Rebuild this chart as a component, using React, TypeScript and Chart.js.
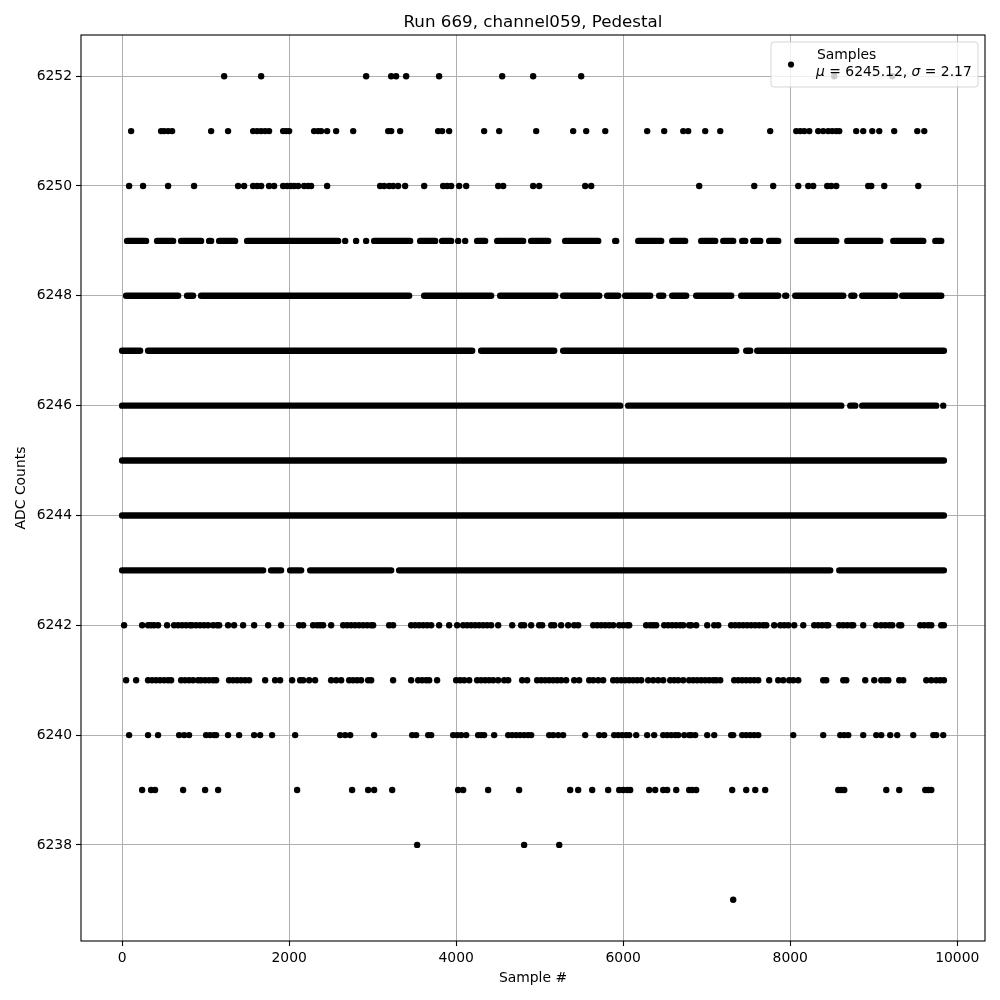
import React, { useEffect, useRef } from "react";
import { Chart, registerables } from "chart.js";

Chart.register(...registerables);

const TITLE = "Run 669, channel059, Pedestal";
const X_LABEL = "Sample #";
const Y_LABEL = "ADC Counts";
const LEGEND_NAME = "Samples";
const MEAN_TEXT = "6245.12";
const SIGMA_TEXT = "2.17";

const xTicks = [0, 2000, 4000, 6000, 8000, 10000];
const yTicks = [6238, 6240, 6242, 6244, 6246, 6248, 6250, 6252];
const X_MIN = -492;
const X_MAX = 10332;
const Y_MIN = 6236.25;
const Y_MAX = 6252.75;

// Runs of consecutive samples (start, end sample index) on the densely populated levels
const runs6249 = [
  [60, 287], [419, 611], [707, 946], [1042, 1066], [1162, 1353], [1497, 2587],
  [3018, 3449], [3569, 3749], [3832, 3940], [4251, 4347], [4491, 4802], [4898, 5102],
  [5305, 5701], [5904, 5916], [6180, 6455], [6587, 6742], [6934, 7102], [7198, 7317],
  [7425, 7461], [7557, 7641], [7748, 7856], [8084, 8551], [8683, 9078], [9234, 9593],
  [9737, 9808],
];
const runs6248 = [
  [48, 671], [778, 850], [946, 3437], [3617, 4419], [4527, 5186], [5281, 5713],
  [5808, 5940], [6024, 6323], [6431, 6479], [6587, 6754], [6874, 7293], [7413, 7856],
  [7940, 7952], [8060, 8635], [8731, 8767], [8862, 9257], [9341, 9808],
];
const runs6247 = [
  [0, 216], [311, 4192], [4299, 5174], [5281, 7353], [7473, 7521], [7605, 9840],
];
const runs6246 = [
  [0, 5964], [6060, 8611], [8719, 8779], [8862, 9748],
];
const runs6245 = [[0, 9840]];
const runs6244 = [[0, 9840]];
const runs6243 = [
  [0, 1689], [1784, 1904], [2012, 2144], [2252, 3222], [3317, 8479], [8587, 9840],
];

// Isolated samples (sample index) per level
const dots6252 = [1222, 1665, 2922, 3222, 3281, 3401, 3796, 4551, 4922, 5497, 8527, 9221];
const dots6251 = [
  108, 467, 503, 551, 599, 1066, 1269, 1569, 1617, 1665, 1713, 1760, 1928, 1964, 2000,
  2299, 2347, 2383, 2455, 2563, 2767, 3186, 3222, 3329, 3784, 3832, 3916, 4335, 4515,
  4958, 5401, 5557, 5785, 6287, 6491, 6719, 6778, 6982, 7162, 7760, 8072, 8120, 8168,
  8228, 8335, 8395, 8455, 8503, 8551, 8587, 8790, 8874, 8982, 9066, 9245, 9521, 9605,
];
const dots6250 = [
  84, 251, 551, 862, 1389, 1461, 1569, 1617, 1665, 1760, 1820, 1928, 1976, 2024, 2060,
  2108, 2180, 2227, 2263, 2455, 3090, 3138, 3198, 3245, 3305, 3389, 3617, 3844, 3892,
  3940, 4036, 4120, 4503, 4563, 4922, 4994, 5545, 5617, 6910, 7569, 7796, 8096, 8216,
  8275, 8443, 8491, 8551, 8934, 8970, 9126, 9533,
];
const dots6249 = [2671, 2802, 2922, 4024, 4108];
const dots6246 = [9832];
const dots6242 = [
  24, 240, 311, 347, 383, 431, 539, 623, 671, 719, 766, 814, 838, 886, 934, 982, 1030,
  1090, 1138, 1162, 1269, 1341, 1449, 1581, 1749, 1904, 2120, 2168, 2287, 2335, 2371,
  2407, 2503, 2647, 2695, 2742, 2790, 2838, 2886, 2934, 2982, 3006, 3198, 3245, 3461,
  3509, 3557, 3605, 3653, 3701, 3796, 3916, 4012, 4084, 4132, 4180, 4228, 4275, 4323,
  4371, 4419, 4503, 4671, 4778, 4814, 4898, 4994, 5030, 5138, 5174, 5257, 5341, 5413,
  5461, 5641, 5689, 5737, 5784, 5832, 5880, 5952, 6000, 6048, 6072, 6275, 6323, 6359,
  6395, 6491, 6539, 6587, 6635, 6683, 6719, 6790, 6814, 6874, 7006, 7090, 7138, 7293,
  7341, 7389, 7437, 7485, 7533, 7581, 7629, 7677, 7713, 7808, 7880, 7928, 7976, 8048,
  8156, 8287, 8335, 8383, 8431, 8455, 8587, 8635, 8683, 8731, 8754, 8874, 9030, 9090,
  9138, 9186, 9222, 9305, 9329, 9557, 9605, 9653, 9689, 9808, 9840,
];
const dots6241 = [
  48, 168, 311, 359, 407, 455, 503, 551, 587, 707, 754, 802, 850, 910, 946, 994, 1042,
  1090, 1126, 1281, 1329, 1377, 1425, 1473, 1521, 1713, 1832, 1892, 2036, 2132, 2168,
  2240, 2311, 2503, 2563, 2623, 2719, 2766, 2814, 2862, 2946, 2982, 3245, 3461, 3545,
  3593, 3641, 3677, 3772, 4000, 4048, 4096, 4156, 4251, 4299, 4347, 4395, 4443, 4503,
  4575, 4623, 4790, 4850, 4970, 5018, 5066, 5114, 5162, 5210, 5257, 5317, 5413, 5473,
  5593, 5641, 5701, 5760, 5880, 5928, 5976, 6024, 6072, 6120, 6168, 6216, 6299, 6359,
  6419, 6479, 6563, 6611, 6659, 6719, 6790, 6838, 6886, 6934, 6982, 7030, 7078, 7114,
  7162, 7329, 7377, 7425, 7473, 7521, 7569, 7617, 7748, 7856, 7916, 7988, 8036, 8096,
  8395, 8431, 8635, 8671, 8898, 9006, 9090, 9138, 9174, 9305, 9353, 9629, 9689, 9748,
  9796, 9840,
];
const dots6240 = [
  84, 311, 431, 683, 743, 802, 1006, 1054, 1102, 1126, 1269, 1401, 1581, 1653, 1796,
  2072, 2611, 2671, 2731, 3018, 3473, 3521, 3665, 3701, 3964, 4012, 4060, 4120, 4263,
  4299, 4335, 4455, 4623, 4671, 4719, 4766, 4814, 4862, 4898, 5114, 5162, 5222, 5281,
  5545, 5713, 5772, 5892, 5940, 5988, 6036, 6072, 6156, 6287, 6371, 6479, 6527, 6575,
  6623, 6659, 6731, 6790, 6814, 6862, 7006, 7090, 7293, 7317, 7425, 7473, 7521, 7569,
  7617, 8036, 8395, 8599, 8647, 8695, 8874, 9030, 9090, 9197, 9281, 9473, 9713, 9748,
  9832,
];
const dots6239 = [
  240, 347, 395, 731, 994, 1150, 2096, 2754, 2946, 3018, 3234, 4024, 4084, 4383, 4754,
  5365, 5461, 5629, 5820, 5952, 6000, 6048, 6084, 6311, 6383, 6479, 6527, 6635, 6790,
  6826, 6874, 7305, 7473, 7581, 7700, 8575, 8611, 8647, 9150, 9305, 9617, 9653, 9689,
];
const dots6238 = [3533, 4814, 5234];
const dots6237 = [7317];

const runLevels = [6249, 6248, 6247, 6246, 6245, 6244, 6243];
const runSets = [runs6249, runs6248, runs6247, runs6246, runs6245, runs6244, runs6243];
const dotLevels = [6252, 6251, 6250, 6249, 6246, 6242, 6241, 6240, 6239, 6238, 6237];
const dotSets = [
  dots6252, dots6251, dots6250, dots6249, dots6246, dots6242, dots6241, dots6240,
  dots6239, dots6238, dots6237,
];

const FONT = "'DejaVu Sans', 'Liberation Sans', sans-serif";

function buildRunData() {
  const out: any[] = [];
  runLevels.forEach((lvl, i) => {
    runSets[i].forEach(([a, b]) => {
      out.push({ x: a, y: lvl }, { x: b, y: lvl }, { x: b, y: null });
    });
  });
  return out;
}

function buildDotData() {
  const out: any[] = [];
  dotLevels.forEach((lvl, i) => {
    dotSets[i].forEach((s) => out.push({ x: s, y: lvl }));
  });
  return out;
}

const decorPlugin = {
  id: "decor",
  afterDraw(chart: any) {
    const ctx = chart.ctx as CanvasRenderingContext2D;
    const a = chart.chartArea;
    ctx.save();
    // frame
    ctx.strokeStyle = "#000";
    ctx.lineWidth = 1.1;
    ctx.strokeRect(a.left, a.top, a.right - a.left, a.bottom - a.top);

    // title
    ctx.fillStyle = "#000";
    ctx.font = `16.7px ${FONT}`;
    ctx.textAlign = "center";
    ctx.textBaseline = "alphabetic";
    ctx.fillText(TITLE, (a.left + a.right) / 2, 27);

    // axis labels
    ctx.font = `13.9px ${FONT}`;
    ctx.fillText(X_LABEL, (a.left + a.right) / 2, 982);
    ctx.save();
    ctx.translate(25, (a.top + a.bottom) / 2);
    ctx.rotate(-Math.PI / 2);
    ctx.fillText(Y_LABEL, 0, 0);
    ctx.restore();

    // legend
    const lx = 771, ly = 42, lw = 207, lh = 45, r = 3;
    ctx.beginPath();
    ctx.moveTo(lx + r, ly);
    ctx.lineTo(lx + lw - r, ly);
    ctx.quadraticCurveTo(lx + lw, ly, lx + lw, ly + r);
    ctx.lineTo(lx + lw, ly + lh - r);
    ctx.quadraticCurveTo(lx + lw, ly + lh, lx + lw - r, ly + lh);
    ctx.lineTo(lx + r, ly + lh);
    ctx.quadraticCurveTo(lx, ly + lh, lx, ly + lh - r);
    ctx.lineTo(lx, ly + r);
    ctx.quadraticCurveTo(lx, ly, lx + r, ly);
    ctx.closePath();
    ctx.fillStyle = "rgba(255,255,255,0.8)";
    ctx.fill();
    ctx.strokeStyle = "rgba(204,204,204,0.8)";
    ctx.lineWidth = 1;
    ctx.stroke();

    ctx.fillStyle = "#000";
    ctx.beginPath();
    ctx.arc(791, 64.5, 3.1, 0, Math.PI * 2);
    ctx.fill();

    ctx.textAlign = "left";
    ctx.font = `13.9px ${FONT}`;
    ctx.fillText(LEGEND_NAME, 817, 59);
    let x = 816;
    const parts: [string, boolean][] = [
      ["\u03bc", true],
      [" = " + MEAN_TEXT + ", ", false],
      ["\u03c3", true],
      [" = " + SIGMA_TEXT, false],
    ];
    parts.forEach(([t, it]) => {
      ctx.font = `${it ? "italic " : ""}13.9px ${FONT}`;
      ctx.fillText(t, x, 76);
      x += ctx.measureText(t).width;
    });
    ctx.restore();
  },
};

export default function App() {
  const ref = useRef<HTMLCanvasElement | null>(null);
  useEffect(() => {
    if (!ref.current) return;
    const chart = new Chart(ref.current, {
      type: "scatter",
      data: {
        datasets: [
          {
            data: buildRunData(),
            showLine: true,
            spanGaps: false,
            borderColor: "#000",
            borderWidth: 6.4,
            borderCapStyle: "round",
            pointRadius: 0,
            pointHoverRadius: 0,
          } as any,
          {
            data: buildDotData(),
            backgroundColor: "#000",
            borderWidth: 0,
            pointRadius: 3.2,
            pointHoverRadius: 3.2,
          },
        ],
      },
      options: {
        animation: false,
        responsive: false,
        events: [],
        layout: { padding: { top: 35, right: 15, left: 0, bottom: 0 } },
        plugins: {
          legend: { display: false },
          tooltip: { enabled: false },
          title: { display: false },
        },
        scales: {
          x: {
            type: "linear",
            min: X_MIN,
            max: X_MAX,
            afterBuildTicks: (s: any) => {
              s.ticks = xTicks.map((v) => ({ value: v }));
            },
            afterFit: (s: any) => {
              s.height = 59;
            },
            ticks: {
              font: { family: FONT, size: 13.9 },
              color: "#000",
              padding: 4,
              maxRotation: 0,
              autoSkip: false,
              callback: (v: any) => String(v),
            },
            grid: {
              color: "#b0b0b0",
              lineWidth: 1,
              tickColor: "#000",
              tickLength: 5,
              tickWidth: 1.1,
            },
            border: { display: false },
          },
          y: {
            type: "linear",
            min: Y_MIN,
            max: Y_MAX,
            afterBuildTicks: (s: any) => {
              s.ticks = yTicks.map((v) => ({ value: v }));
            },
            afterFit: (s: any) => {
              s.width = 81;
            },
            ticks: {
              font: { family: FONT, size: 13.9 },
              color: "#000",
              padding: 4,
              autoSkip: false,
              callback: (v: any) => String(v),
            },
            grid: {
              color: "#b0b0b0",
              lineWidth: 1,
              tickColor: "#000",
              tickLength: 5,
              tickWidth: 1.1,
            },
            border: { display: false },
          },
        },
      },
      plugins: [decorPlugin],
    });
    return () => chart.destroy();
  }, []);
  return (
    <div style={{ position: "absolute", left: 0, top: 0, width: 1000, height: 1000, background: "#fff" }}>
      <canvas ref={ref} width={1000} height={1000} style={{ width: 1000, height: 1000 }} />
    </div>
  );
}
